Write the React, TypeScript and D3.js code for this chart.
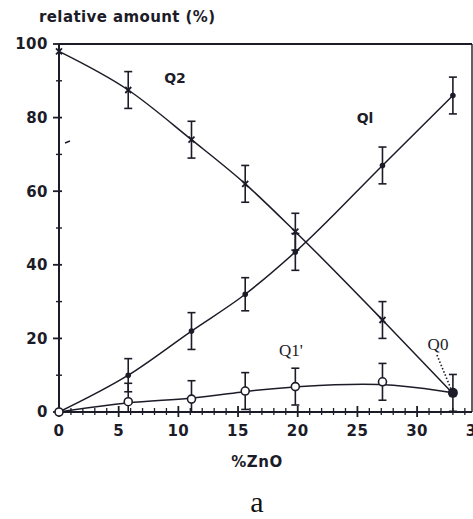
import React from "react";
import * as d3 from "d3";

const zno = [0, 5.8, 11.1, 15.6, 19.8, 27.1, 33.0];
const q2 = [98, 87.5, 74, 62, 49, 25, 5];
const q1 = [0, 10, 22, 32, 43.5, 67, 86];
const q1p = [0, 2.8, 3.5, 5.7, 6.9, 8.2, 5.2];
const errQ2 = [0, 5, 5, 5, 5, 5, 0];
const errQ1 = [0, 4.5, 5, 4.5, 5, 5, 5];
const errQ1p = [0, 5, 5, 5, 5, 5, 5];
const xTicks = [0, 5, 10, 15, 20, 25, 30, 35];
const yTicks = [0, 20, 40, 60, 80, 100];

const W = 473, H = 519;
const ink = "#1c1c28";

export default function App() {
  const x = d3.scaleLinear().domain([0, 34.6]).range([59, 472]);
  const y = d3.scaleLinear().domain([0, 100]).range([412, 44]);
  const line = (vals: number[], curve: d3.CurveFactory) =>
    d3.line<number>().x((_, i) => x(zno[i])).y((v) => y(v)).curve(curve)(vals) || "";

  const errBars = (vals: number[], errs: number[], key: string) =>
    vals.map((v, i) =>
      errs[i] > 0 ? (
        <g key={key + i} stroke={ink} strokeWidth={1.6}>
          <line x1={x(zno[i])} x2={x(zno[i])} y1={y(v + errs[i])} y2={y(Math.max(v - errs[i], 0))} />
          <line x1={x(zno[i]) - 4} x2={x(zno[i]) + 4} y1={y(v + errs[i])} y2={y(v + errs[i])} />
          <line x1={x(zno[i]) - 4} x2={x(zno[i]) + 4} y1={y(Math.max(v - errs[i], 0))} y2={y(Math.max(v - errs[i], 0))} />
        </g>
      ) : null
    );

  const minorX = d3.range(1, 35).filter((v) => v % 5 !== 0);
  const minorY = [10, 30, 50, 70, 90];
  const sans = { fontFamily: "DejaVu Sans", fontWeight: "bold" as const, fill: ink };

  return (
    <svg width={W} height={H} style={{ position: "absolute", left: 0, top: 0, background: "#fff" }}>
      <text x={39} y={22} {...sans} fontSize={15} letterSpacing={0.4}>
        relative amount (%)
      </text>
      {/* frame */}
      <line x1={59} x2={472} y1={44} y2={44} stroke={ink} strokeWidth={1.8} />
      <line x1={472} x2={472} y1={44} y2={412} stroke={ink} strokeWidth={1.4} />
      <line x1={59} x2={59} y1={44} y2={412} stroke={ink} strokeWidth={2} />
      <line x1={59} x2={472} y1={412} y2={412} stroke={ink} strokeWidth={2} />
      {/* y ticks */}
      {yTicks.map((t) => (
        <g key={"y" + t}>
          <line x1={53} x2={62} y1={y(t)} y2={y(t)} stroke={ink} strokeWidth={1.8} />
          <text x={48} y={y(t)} dy="0.36em" textAnchor="end" {...sans} fontSize={15} letterSpacing={0.5}>
            {t}
          </text>
        </g>
      ))}
      {minorY.map((t) => (
        <line key={"my" + t} x1={56} x2={62} y1={y(t)} y2={y(t)} stroke={ink} strokeWidth={1.4} />
      ))}
      {/* x ticks */}
      {xTicks.map((t) => (
        <g key={"x" + t}>
          <line x1={x(t)} x2={x(t)} y1={406} y2={417} stroke={ink} strokeWidth={1.8} />
          <text x={x(t)} y={431} dy="0.36em" textAnchor="middle" {...sans} fontSize={15} letterSpacing={0.5}>
            {t}
          </text>
        </g>
      ))}
      {minorX.map((t) => (
        <line key={"mx" + t} x1={x(t)} x2={x(t)} y1={408} y2={415} stroke={ink} strokeWidth={1.3} />
      ))}
      <text x={257} y={462} dy="0.36em" textAnchor="middle" {...sans} fontSize={15} letterSpacing={0.5}>
        %ZnO
      </text>
      <text x={257} y={503} dy="0.3em" textAnchor="middle" fontFamily="Liberation Serif" fontSize={30} fill="#111">
        a
      </text>
      {/* curves */}
      <path d={line(q2, d3.curveMonotoneX)} fill="none" stroke={ink} strokeWidth={1.5} />
      <path d={line(q1, d3.curveMonotoneX)} fill="none" stroke={ink} strokeWidth={1.5} />
      <path d={line(q1p, d3.curveBasis)} fill="none" stroke={ink} strokeWidth={1.5} />
      {errBars(q2, errQ2, "e2")}
      {errBars(q1, errQ1, "e1")}
      {errBars(q1p, errQ1p, "e1p")}
      {/* markers Q2 */}
      {q2.map((v, i) => (
        <g key={"m2" + i} stroke={ink} strokeWidth={1.8}>
          <line x1={x(zno[i]) - 3} x2={x(zno[i]) + 3} y1={y(v) - 3} y2={y(v) + 3} />
          <line x1={x(zno[i]) - 3} x2={x(zno[i]) + 3} y1={y(v) + 3} y2={y(v) - 3} />
        </g>
      ))}
      {q1.map((v, i) => (
        <circle key={"m1" + i} cx={x(zno[i])} cy={y(v)} r={2.8} fill={ink} />
      ))}
      {q1p.slice(0, 6).map((v, i) => (
        <circle key={"m1p" + i} cx={x(zno[i])} cy={y(v)} r={4} fill="#fff" stroke={ink} strokeWidth={1.6} />
      ))}
      <circle cx={x(zno[6])} cy={y(q1p[6])} r={5} fill={ink} />
      {/* Q0 dotted leader */}
      <line x1={437} y1={355} x2={x(zno[6]) - 2} y2={y(q1p[6]) - 4} stroke={ink} strokeWidth={1.6} strokeDasharray="1.5 2" />
      {/* labels */}
      <text x={175} y={78} dy="0.36em" textAnchor="middle" {...sans} fontSize={14}>Q2</text>
      <text x={365} y={118} dy="0.36em" textAnchor="middle" {...sans} fontSize={14}>Ql</text>
      <text x={291} y={350} dy="0.36em" textAnchor="middle" fontFamily="Liberation Serif" fontSize={17} fill={ink}>Q1'</text>
      <text x={438} y={344} dy="0.36em" textAnchor="middle" fontFamily="Liberation Serif" fontSize={17} fill={ink}>Q0</text>
      <line x1={65} x2={70} y1={143} y2={141} stroke={ink} strokeWidth={1.5} />
    </svg>
  );
}
